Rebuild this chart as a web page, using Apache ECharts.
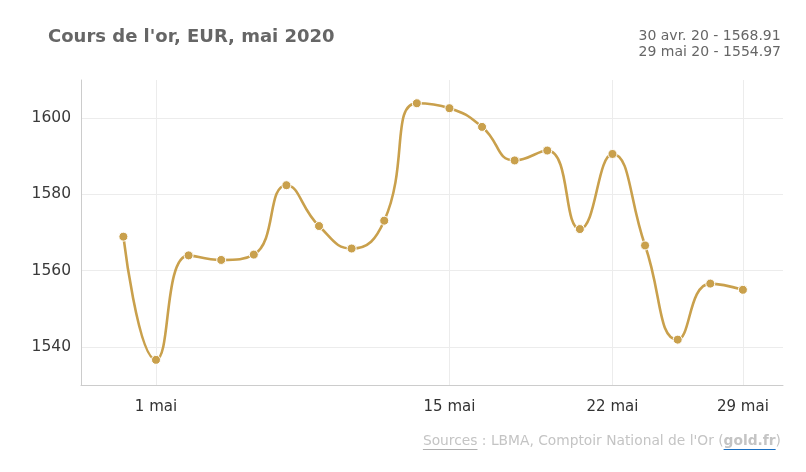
<!DOCTYPE html>
<html>
<head>
<meta charset="utf-8">
<script src="https://cdn.jsdelivr.net/npm/echarts@6/dist/echarts.min.js"></script>
<style>html,body{margin:0;padding:0;background:#fff}#c{width:806px;height:472px}</style>
</head>
<body>
<div id="c"></div>
<script>
const dates = ['30 avr.', '1 mai', '4 mai', '5 mai', '6 mai', '7 mai', '11 mai', '12 mai', '13 mai', '14 mai', '15 mai', '18 mai', '19 mai', '20 mai', '21 mai', '22 mai', '26 mai', '27 mai', '28 mai', '29 mai'];
const prices = [1568.91, 1536.6, 1564.0, 1562.8, 1564.2, 1582.4, 1571.7, 1565.8, 1573.1, 1603.9, 1602.6, 1597.7, 1588.9, 1591.5, 1570.9, 1590.6, 1566.6, 1541.9, 1556.6, 1554.97];
const xLabelIdx = [1, 10, 15, 19];
const yTicks = [1540, 1560, 1580, 1600];
const titleText = "Cours de l'or, EUR, mai 2020";
const infoLines = ['30 avr. 20 - 1568.91', '29 mai 20 - 1554.97'];
const srcParts = ['Sources', " : LBMA, Comptoir National de l'Or (", 'gold.fr', ')'];

const font = "'DejaVu Sans', Verdana, sans-serif";
const srcSize = 13.8;
// measure source text parts for underline decoration
const mctx = document.createElement('canvas').getContext('2d');
mctx.font = srcSize + "px 'DejaVu Sans'";
const w0 = mctx.measureText(srcParts[0]).width;
const w1 = mctx.measureText(srcParts[1]).width;
mctx.font = 'bold ' + srcSize + "px 'DejaVu Sans'";
const w2 = mctx.measureText(srcParts[2]).width;
mctx.font = srcSize + "px 'DejaVu Sans'";
const w3 = mctx.measureText(srcParts[3]).width;
const srcRight = 781;
const srcLeft = srcRight - (w0 + w1 + w2 + w3);
const ulY = 449;

const chart = echarts.init(document.getElementById('c'), null, {renderer: 'canvas'});
chart.setOption({
  animation: false,
  backgroundColor: '#fff',
  title: {
    text: titleText,
    left: 43, top: 23,
    textStyle: {fontFamily: font, fontSize: 18, fontWeight: 'bold', color: '#666'}
  },
  grid: {left: 81, right: 23, top: 80, bottom: 87, containLabel: false},
  xAxis: {
    type: 'value',
    min: -1.3, max: 20.23,
    axisLine: {show: true, onZero: false, lineStyle: {color: '#ccc', width: 1}},
    axisTick: {show: false, customValues: xLabelIdx},
    axisLabel: {
      customValues: xLabelIdx,
      formatter: v => dates[Math.round(v)],
      color: '#333', fontFamily: font, fontSize: 15, margin: 15
    },
    splitLine: {show: true, lineStyle: {color: '#ececec', width: 1}}
  },
  yAxis: {
    type: 'value',
    min: 1530, max: 1610,
    axisLine: {show: true, onZero: false, lineStyle: {color: '#ccc', width: 1}},
    axisTick: {show: false, customValues: yTicks},
    axisLabel: {customValues: yTicks, formatter: v => String(v), color: '#3a3a3a', fontFamily: font, fontSize: 15.5, margin: 10},
    splitLine: {show: true, lineStyle: {color: '#ececec', width: 1}}
  },
  graphic: [
    {
      type: 'text', right: 25, top: 28,
      style: {text: infoLines.join('\n'), font: "14px 'DejaVu Sans', sans-serif", fill: '#666', align: 'right', lineHeight: 16}
    },
    {
      type: 'text', left: srcLeft, top: 434,
      style: {
        text: '{u|' + srcParts[0] + '}' + srcParts[1] + '{l|' + srcParts[2] + '}{p|' + srcParts[3] + '}',
        font: srcSize + "px 'DejaVu Sans', sans-serif", fill: '#c4c4c4',
        rich: {
          u: {fontFamily: "'DejaVu Sans'", fontSize: srcSize, color: '#b0b0b0'},
          l: {fontFamily: "'DejaVu Sans'", fontSize: srcSize, color: '#1a6fc2', fontWeight: 'bold'},
          p: {fontFamily: "'DejaVu Sans'", fontSize: srcSize, color: '#c4c4c4'}
        }
      }
    },
    {type: 'rect', shape: {x: srcLeft, y: ulY, width: w0, height: 1}, style: {fill: '#b0b0b0'}},
    {type: 'rect', shape: {x: srcLeft + w0 + w1, y: ulY, width: w2, height: 1}, style: {fill: '#1a6fc2'}}
  ],
  series: [{
    type: 'line',
    data: prices.map((v, i) => [i, v]),
    smooth: 0.5,
    symbol: 'circle',
    symbolSize: 9,
    itemStyle: {color: '#c9a04c', borderColor: '#fff', borderWidth: 1},
    lineStyle: {color: '#c9a04c', width: 2.6}
  }]
});
</script>
</body>
</html>
